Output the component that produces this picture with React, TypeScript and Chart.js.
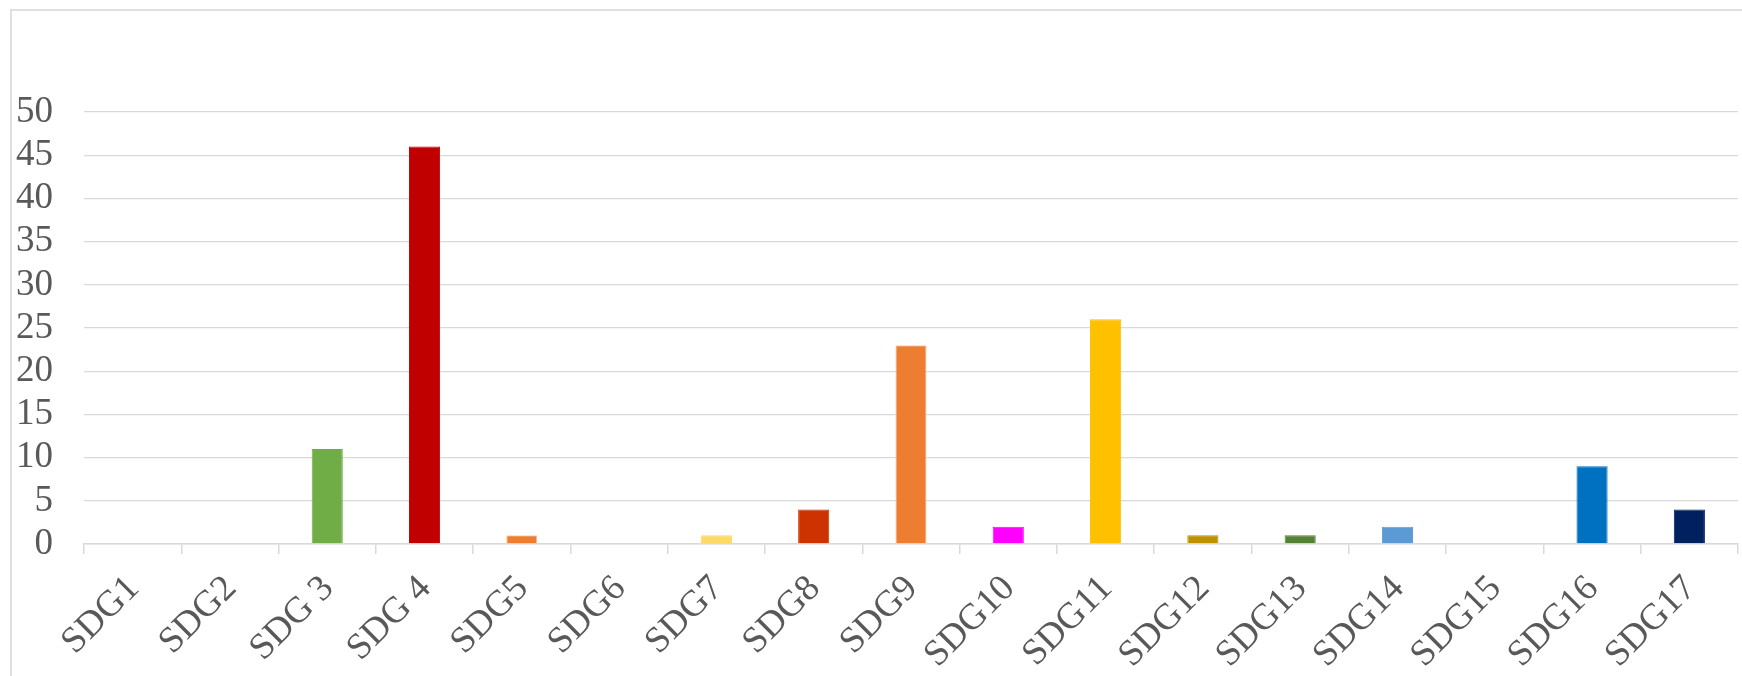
import React, { useEffect, useRef } from "react";
import { Chart, registerables } from "chart.js";

Chart.register(...registerables);

const categories = [
  "SDG1", "SDG2", "SDG 3", "SDG 4", "SDG5", "SDG6", "SDG7", "SDG8", "SDG9",
  "SDG10", "SDG11", "SDG12", "SDG13", "SDG14", "SDG15", "SDG16", "SDG17",
];
const values = [0, 0, 11, 46, 1, 0, 1, 4, 23, 2, 26, 1, 1, 2, 0, 9, 4];
const barColors = [
  "#E5243B", "#DDA63A", "#70AD47", "#C00000", "#ED7D31", "#26BDE2", "#FFD966",
  "#CC3300", "#ED7D31", "#FF00FF", "#FFC000", "#BF9000", "#548235", "#5B9BD5",
  "#56C02B", "#0070C0", "#002060",
];
const barBorderColors = [
  "#E5243B", "#DDA63A", "#70AD47", "#C00000", "#F8CBAD", "#26BDE2", "#FFD966",
  "#CC3300", "#F8CBAD", "#FF00FF", "#FFC000", "#BF9000", "#548235", "#5B9BD5",
  "#56C02B", "#0070C0", "#002060",
];
const yMin = 0;
const yMax = 50;
const yStep = 5;

const W = 1742;
const H = 676;
const FONT = "'Times New Roman', 'Liberation Serif', serif";

export default function App() {
  const ref = useRef<HTMLCanvasElement | null>(null);

  useEffect(() => {
    if (!ref.current) return;
    const chart = new Chart(ref.current, {
      type: "bar",
      data: {
        labels: categories,
        datasets: [
          {
            data: values,
            backgroundColor: barColors,
            borderColor: barBorderColors,
            borderWidth: 1,
            barPercentage: 0.32,
            categoryPercentage: 1,
          },
        ],
      },
      options: {
        animation: false,
        responsive: false,
        devicePixelRatio: 1,
        layout: { padding: { top: 112, right: 4, left: 0, bottom: 0 } },
        plugins: { legend: { display: false }, tooltip: { enabled: false } },
        scales: {
          x: {
            grid: {
              offset: true,
              drawOnChartArea: false,
              drawTicks: true,
              tickLength: 10,
              color: "#d9d9d9",
              lineWidth: 1.5,
            },
            border: { display: true, color: "#d9d9d9", width: 1.5 },
            ticks: {
              color: "#595959",
              font: { family: FONT, size: 37 },
              minRotation: 45,
              maxRotation: 45,
              autoSkip: false,
              padding: 13,
              labelOffset: 1,
            },
            afterFit: (s: any) => {
              s.height = 132;
              s.paddingLeft = 0;
              s.paddingRight = 0;
            },
          },
          y: {
            min: yMin,
            max: yMax,
            grid: { color: "#d9d9d9", lineWidth: 1.3, drawTicks: false },
            border: { display: false },
            ticks: {
              stepSize: yStep,
              autoSkip: false,
              color: "#595959",
              font: { family: FONT, size: 37 },
              padding: 31,
            },
            afterFit: (s: any) => {
              s.width = 84;
            },
          },
        },
      },
    });
    return () => chart.destroy();
  }, []);

  return (
    <div
      style={{
        position: "fixed",
        left: 0,
        top: 0,
        width: W,
        height: H,
        background: "#fff",
        overflow: "hidden",
      }}
    >
      <div
        style={{
          position: "absolute",
          left: 10,
          top: 9,
          width: 2000,
          height: 1000,
          borderTop: "2px solid #e0e0e0",
          borderLeft: "2px solid #e0e0e0",
        }}
      />
      <canvas
        ref={ref}
        width={W}
        height={H}
        style={{ position: "absolute", left: 0, top: 0, width: W, height: H }}
      />
    </div>
  );
}
